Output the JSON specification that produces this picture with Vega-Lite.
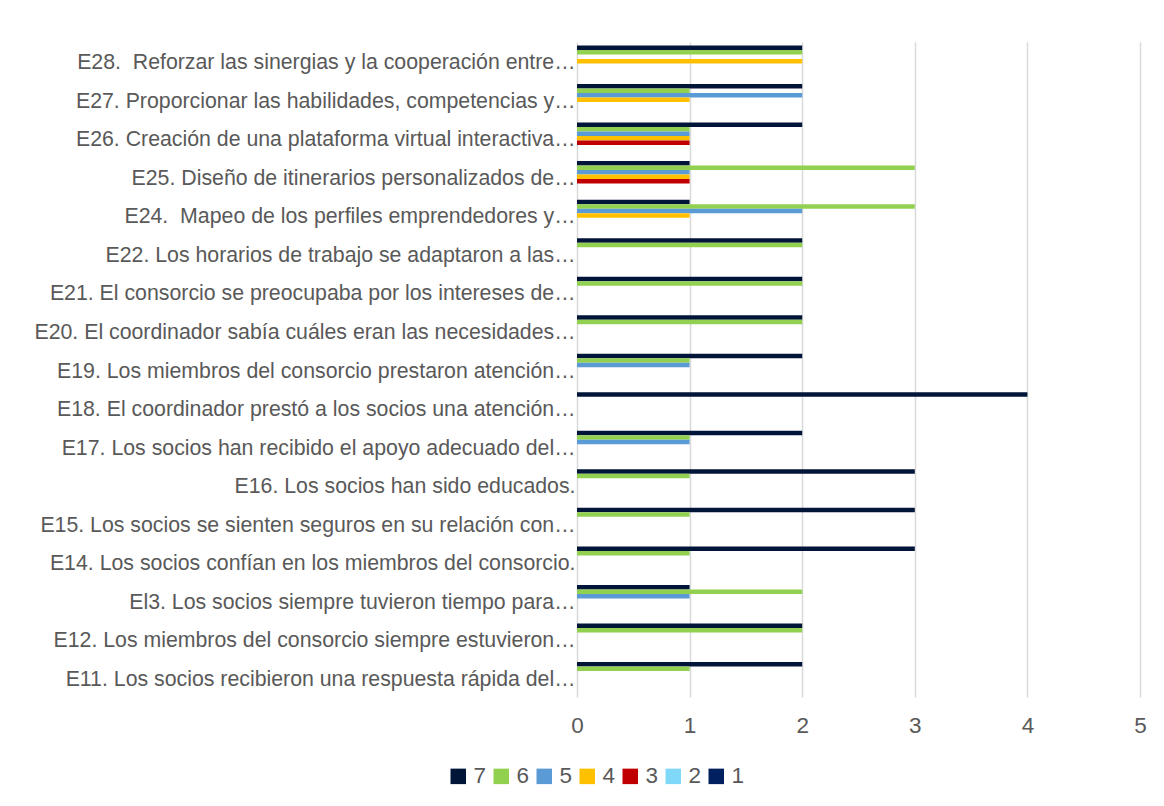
{
  "$schema": "https://vega.github.io/schema/vega-lite/v6.json",
  "width": 563,
  "height": 655,
  "autosize": "none",
  "padding": {"left": 577, "top": 42, "right": 24, "bottom": 109},
  "background": "white",
  "data": {
    "values": [
      {"item": "E28.\u00a0 Reforzar las sinergias y la cooperación entre…", "serie": "7", "n": 2},
      {"item": "E28.\u00a0 Reforzar las sinergias y la cooperación entre…", "serie": "6", "n": 2},
      {"item": "E28.\u00a0 Reforzar las sinergias y la cooperación entre…", "serie": "4", "n": 2},
      {"item": "E27. Proporcionar las habilidades, competencias y…", "serie": "7", "n": 2},
      {"item": "E27. Proporcionar las habilidades, competencias y…", "serie": "6", "n": 1},
      {"item": "E27. Proporcionar las habilidades, competencias y…", "serie": "5", "n": 2},
      {"item": "E27. Proporcionar las habilidades, competencias y…", "serie": "4", "n": 1},
      {"item": "E26. Creación de una plataforma virtual interactiva…", "serie": "7", "n": 2},
      {"item": "E26. Creación de una plataforma virtual interactiva…", "serie": "6", "n": 1},
      {"item": "E26. Creación de una plataforma virtual interactiva…", "serie": "5", "n": 1},
      {"item": "E26. Creación de una plataforma virtual interactiva…", "serie": "4", "n": 1},
      {"item": "E26. Creación de una plataforma virtual interactiva…", "serie": "3", "n": 1},
      {"item": "E25. Diseño de itinerarios personalizados de…", "serie": "7", "n": 1},
      {"item": "E25. Diseño de itinerarios personalizados de…", "serie": "6", "n": 3},
      {"item": "E25. Diseño de itinerarios personalizados de…", "serie": "5", "n": 1},
      {"item": "E25. Diseño de itinerarios personalizados de…", "serie": "4", "n": 1},
      {"item": "E25. Diseño de itinerarios personalizados de…", "serie": "3", "n": 1},
      {"item": "E24.\u00a0 Mapeo de los perfiles emprendedores y…", "serie": "7", "n": 1},
      {"item": "E24.\u00a0 Mapeo de los perfiles emprendedores y…", "serie": "6", "n": 3},
      {"item": "E24.\u00a0 Mapeo de los perfiles emprendedores y…", "serie": "5", "n": 2},
      {"item": "E24.\u00a0 Mapeo de los perfiles emprendedores y…", "serie": "4", "n": 1},
      {"item": "E22. Los horarios de trabajo se adaptaron a las…", "serie": "7", "n": 2},
      {"item": "E22. Los horarios de trabajo se adaptaron a las…", "serie": "6", "n": 2},
      {"item": "E21. El consorcio se preocupaba por los intereses de…", "serie": "7", "n": 2},
      {"item": "E21. El consorcio se preocupaba por los intereses de…", "serie": "6", "n": 2},
      {"item": "E20. El coordinador sabía cuáles eran las necesidades…", "serie": "7", "n": 2},
      {"item": "E20. El coordinador sabía cuáles eran las necesidades…", "serie": "6", "n": 2},
      {"item": "E19. Los miembros del consorcio prestaron atención…", "serie": "7", "n": 2},
      {"item": "E19. Los miembros del consorcio prestaron atención…", "serie": "6", "n": 1},
      {"item": "E19. Los miembros del consorcio prestaron atención…", "serie": "5", "n": 1},
      {"item": "E18. El coordinador prestó a los socios una atención…", "serie": "7", "n": 4},
      {"item": "E17. Los socios han recibido el apoyo adecuado del…", "serie": "7", "n": 2},
      {"item": "E17. Los socios han recibido el apoyo adecuado del…", "serie": "6", "n": 1},
      {"item": "E17. Los socios han recibido el apoyo adecuado del…", "serie": "5", "n": 1},
      {"item": "E16. Los socios han sido educados.\u00a0", "serie": "7", "n": 3},
      {"item": "E16. Los socios han sido educados.\u00a0", "serie": "6", "n": 1},
      {"item": "E15. Los socios se sienten seguros en su relación con…", "serie": "7", "n": 3},
      {"item": "E15. Los socios se sienten seguros en su relación con…", "serie": "6", "n": 1},
      {"item": "E14. Los socios confían en los miembros del consorcio.\u00a0", "serie": "7", "n": 3},
      {"item": "E14. Los socios confían en los miembros del consorcio.\u00a0", "serie": "6", "n": 1},
      {"item": "El3. Los socios siempre tuvieron tiempo para…", "serie": "7", "n": 1},
      {"item": "El3. Los socios siempre tuvieron tiempo para…", "serie": "6", "n": 2},
      {"item": "El3. Los socios siempre tuvieron tiempo para…", "serie": "5", "n": 1},
      {"item": "E12. Los miembros del consorcio siempre estuvieron…", "serie": "7", "n": 2},
      {"item": "E12. Los miembros del consorcio siempre estuvieron…", "serie": "6", "n": 2},
      {"item": "E11. Los socios recibieron una respuesta rápida del…", "serie": "7", "n": 2},
      {"item": "E11. Los socios recibieron una respuesta rápida del…", "serie": "6", "n": 1}
    ]
  },
  "mark": {"type": "bar"},
  "encoding": {
    "y": {
      "field": "item",
      "type": "nominal",
      "sort": null,
      "scale": {"paddingInner": 0, "paddingOuter": 0},
      "axis": {
        "title": null,
        "domain": false,
        "ticks": false,
        "labelFont": "Arial",
        "labelFontSize": 21.3,
        "labelColor": "#595959",
        "labelPadding": 2,
        "labelOffset": 2,
        "labelLimit": 700
      }
    },
    "yOffset": {
      "field": "serie",
      "type": "nominal",
      "scale": {"domain": ["7", "6", "5", "4", "3", "2", "1"], "paddingInner": 0, "paddingOuter": 0.78}
    },
    "x": {
      "field": "n",
      "type": "quantitative",
      "scale": {"domain": [0, 5], "nice": false},
      "axis": {
        "title": null,
        "domain": false,
        "ticks": false,
        "values": [0, 1, 2, 3, 4, 5],
        "labelFont": "Arial",
        "labelFontSize": 22.5,
        "labelColor": "#595959",
        "labelPadding": 17,
        "labelFlush": false,
        "gridColor": "#D9D9D9",
        "gridWidth": 1.5
      }
    },
    "color": {
      "field": "serie",
      "type": "nominal",
      "scale": {
        "domain": ["7", "6", "5", "4", "3", "2", "1"],
        "range": ["#001538", "#92D050", "#5B9BD5", "#FFC000", "#C00000", "#7FD8F8", "#002060"]
      },
      "legend": {
        "title": null,
        "orient": "none",
        "direction": "horizontal",
        "legendX": -130,
        "legendY": 723,
        "symbolType": "square",
        "symbolSize": 240,
        "symbolStrokeWidth": 0,
        "symbolOpacity": 1,
        "labelFont": "Arial",
        "labelFontSize": 22.5,
        "labelColor": "#595959",
        "labelOffset": 4,
        "columnPadding": 3,
        "padding": 0
      }
    }
  },
  "config": {"view": {"stroke": null}}
}
